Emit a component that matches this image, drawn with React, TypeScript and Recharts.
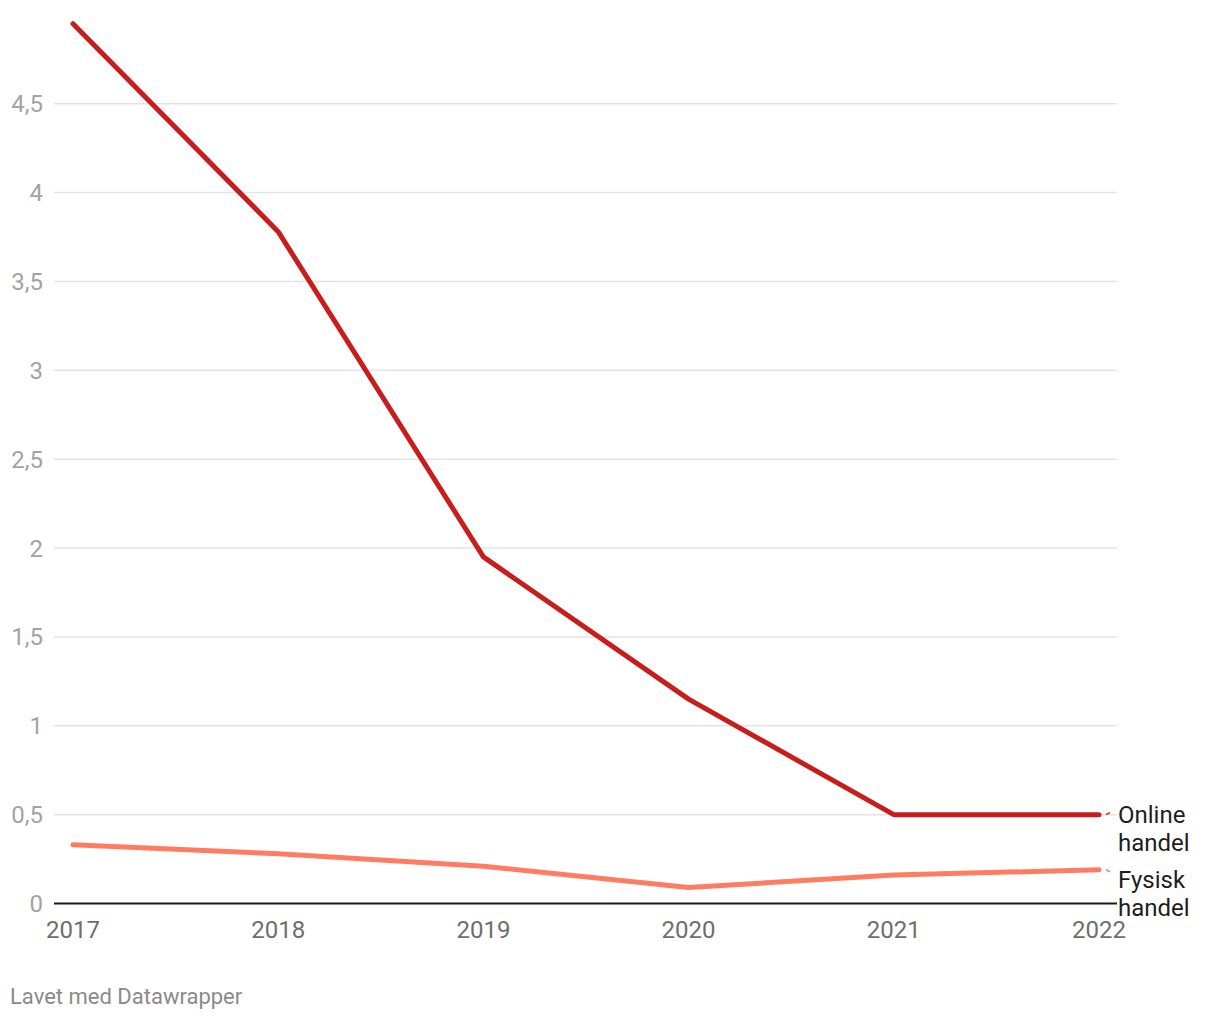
import React from 'react';
import { LineChart, Line, XAxis, YAxis, CartesianGrid, LabelList } from 'recharts';

const years = ['2017', '2018', '2019', '2020', '2021', '2022'];
const onlineValues = [4.95, 3.78, 1.95, 1.15, 0.5, 0.5];
const fysiskValues = [0.33, 0.28, 0.21, 0.09, 0.16, 0.19];
const yTicks = [0, 0.5, 1, 1.5, 2, 2.5, 3, 3.5, 4, 4.5];
const gridValues = [0.5, 1, 1.5, 2, 2.5, 3, 3.5, 4, 4.5];
const onlineName = 'Online handel';
const fysiskName = 'Fysisk handel';
const footerText = 'Lavet med Datawrapper';

const data = years.map((year, i) => ({ year, online: onlineValues[i], fysisk: fysiskValues[i] }));

const FONT = 'Roboto, "Noto Sans", sans-serif';
const ONLINE_COLOR = '#c71e1d';
const FYSISK_COLOR = '#ff7c62';

const makeEndLabel = (name: string, color: string, dy: number, slope: number) => (props: any) => {
  const { x, y, index } = props;
  if (index !== years.length - 1) return null;
  const words = name.split(' ');
  return (
    <g>
      <line x1={x + 7} y1={y} x2={x + 11} y2={y + slope} stroke={color} strokeWidth={1.5} />
      <text x={x + 19} y={y + dy} fontSize={24} fill="#1d1d1d" fontFamily={FONT}>
        {words.map((w, i) => (
          <tspan key={i} x={x + 19} dy={i === 0 ? '0.355em' : 28}>
            {w}
          </tspan>
        ))}
      </text>
    </g>
  );
};

export default function App() {
  return (
    <div style={{ position: 'absolute', left: 0, top: 0, width: 1220, height: 1020, background: '#fff', fontFamily: FONT }}>
      <LineChart
        width={1220}
        height={960}
        data={data}
        margin={{ top: 14.8, right: 103, left: 0, bottom: 16.5 }}
      >
        <CartesianGrid vertical={false} stroke="#e3e3e3" strokeWidth={1.5} horizontalValues={gridValues} />
        <XAxis
          dataKey="year"
          padding={{ left: 19, right: 18 }}
          height={40}
          tickLine={false}
          tickSize={0}
          tickMargin={17}
          axisLine={{ stroke: '#1a1a1a', strokeWidth: 2 }}
          tick={{ fill: '#6e6e6e', fontSize: 24, fontFamily: FONT }}
          interval={0}
        />
        <YAxis
          type="number"
          domain={[0, 5]}
          ticks={yTicks}
          width={54}
          axisLine={false}
          tickLine={false}
          tickSize={0}
          tickMargin={11}
          tick={{ fill: '#a3a3a3', fontSize: 24, fontFamily: FONT }}
          tickFormatter={(v: number) => String(v).replace('.', ',')}
        />
        <Line
          type="linear"
          dataKey="fysisk"
          name={fysiskName}
          stroke={FYSISK_COLOR}
          strokeWidth={5}
          dot={false}
          activeDot={false}
          strokeLinecap="round"
          strokeLinejoin="round"
          isAnimationActive={false}
        >
          <LabelList dataKey="fysisk" content={makeEndLabel(fysiskName, FYSISK_COLOR, 10, 2)} />
        </Line>
        <Line
          type="linear"
          dataKey="online"
          name={onlineName}
          stroke={ONLINE_COLOR}
          strokeWidth={5}
          dot={false}
          activeDot={false}
          strokeLinecap="round"
          strokeLinejoin="round"
          isAnimationActive={false}
        >
          <LabelList dataKey="online" content={makeEndLabel(onlineName, ONLINE_COLOR, 0, -2)} />
        </Line>
      </LineChart>
      <div
        style={{
          position: 'absolute',
          left: 10,
          top: 984,
          fontSize: 22,
          lineHeight: '26px',
          color: '#8a8a8a',
          fontFamily: FONT,
          whiteSpace: 'nowrap',
        }}
      >
        {footerText}
      </div>
    </div>
  );
}
